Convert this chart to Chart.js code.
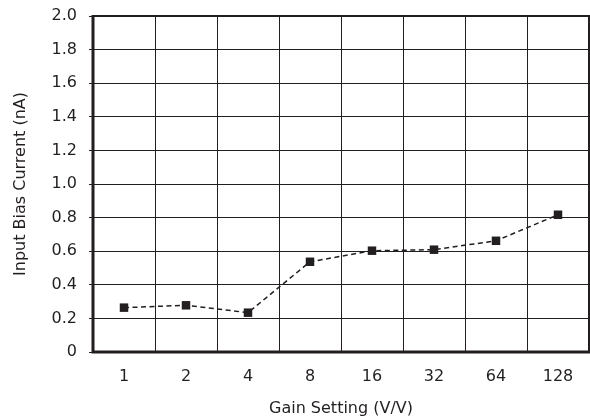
<!DOCTYPE html>
<html>
<head>
<meta charset="utf-8">
<script src="https://cdn.jsdelivr.net/npm/chart.js@4"></script>
<style>
html,body{margin:0;padding:0;background:#fff;overflow:hidden;}
#wrap{width:590px;height:420px;}
canvas{display:block;}
</style>
</head>
<body>
<div id="wrap"><canvas id="c" width="590" height="420"></canvas></div>
<script>
const categories = ['1','2','4','8','16','32','64','128'];
const biasCurrent = [0.264, 0.278, 0.234, 0.537, 0.603, 0.609, 0.662, 0.817];
const yTicks = [0,0.2,0.4,0.6,0.8,1.0,1.2,1.4,1.6,1.8,2.0];

const ink = '#231f20';
const fontFamily = 'DejaVu Sans';
const borderPlugin = {
  id: 'frame',
  afterDraw(chart) {
    const {ctx, chartArea: a} = chart;
    ctx.save();
    ctx.strokeStyle = ink;
    ctx.lineWidth = 2;
    ctx.beginPath();
    ctx.moveTo(a.left, a.top); ctx.lineTo(a.right, a.top); ctx.lineTo(a.right, a.bottom);
    ctx.stroke();
    ctx.lineWidth = 3;
    ctx.beginPath();
    ctx.moveTo(a.left, a.top - 1); ctx.lineTo(a.left, a.bottom); ctx.lineTo(a.right + 1, a.bottom);
    ctx.stroke();
    ctx.restore();
  }
};

new Chart(document.getElementById('c'), {
  type: 'line',
  data: {
    labels: categories,
    datasets: [{
      data: biasCurrent,
      borderColor: ink,
      borderWidth: 1.5,
      borderDash: [5, 3.5],
      backgroundColor: ink,
      pointStyle: 'rect',
      pointRadius: 6,
      pointBorderWidth: 0,
      pointBackgroundColor: ink,
      tension: 0,
      fill: false
    }]
  },
  plugins: [borderPlugin],
  options: {
    responsive: false,
    animation: false,
    devicePixelRatio: 1,
    layout: { autoPadding: false, padding: { left: 0, right: 1, top: 16, bottom: 0 } },
    plugins: { legend: { display: false }, tooltip: { enabled: false } },
    scales: {
      x: {
        type: 'category',
        offset: true,
        grid: { offset: true, color: ink, lineWidth: 1, drawTicks: false },
        border: { display: false },
        ticks: { color: ink, font: { family: fontFamily, size: 16 }, padding: 15, maxRotation: 0 },
        title: { display: true, text: 'Gain Setting (V/V)', color: ink, font: { family: fontFamily, size: 16 }, padding: { top: 9, bottom: 2 } },
        afterFit(s) { s.height = 68; s.paddingLeft = 0; s.paddingRight = 0; }
      },
      y: {
        min: 0, max: 2.0,
        afterBuildTicks(s) { s.ticks = yTicks.map(v => ({ value: v })); },
        grid: { color: ink, lineWidth: 1, tickLength: 4 },
        border: { display: false },
        ticks: {
          color: ink, font: { family: fontFamily, size: 16 }, padding: 12,
          callback: v => v === 0 ? '0' : v.toFixed(1)
        },
        title: { display: true, text: 'Input Bias Current (nA)', color: ink, font: { family: fontFamily, size: 16 }, padding: { top: 11, bottom: 6 } },
        afterFit(s) { s.width = 93; s.paddingTop = 0; s.paddingBottom = 0; }
      }
    }
  }
});
</script>
</body>
</html>
